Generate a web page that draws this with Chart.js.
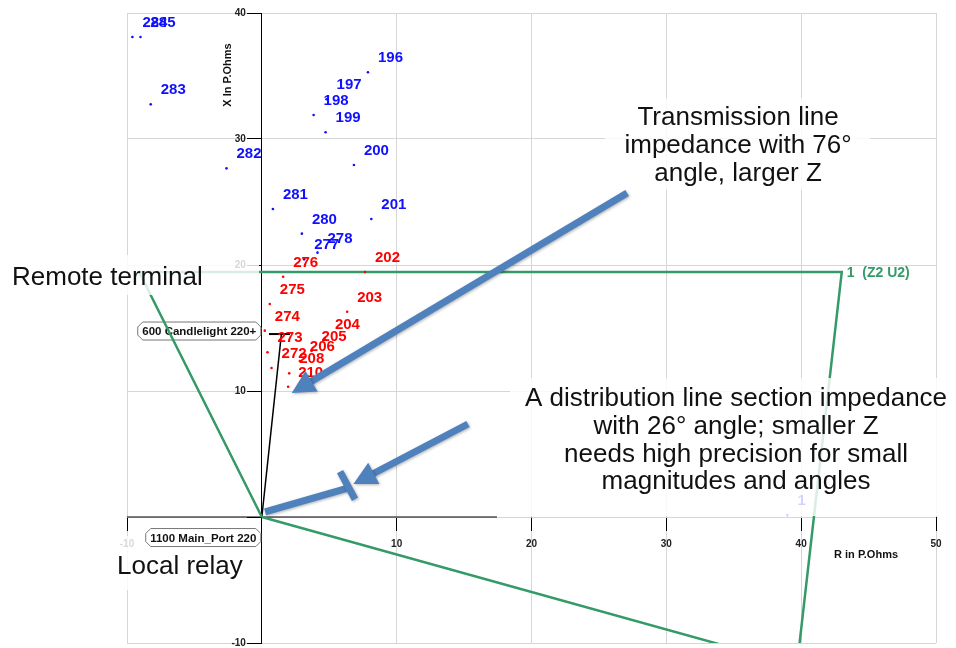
<!doctype html>
<html lang="en">
<head>
<meta charset="utf-8">
<title>R-X impedance plot</title>
<script src="https://cdn.jsdelivr.net/npm/chart.js@4.4.0/dist/chart.umd.min.js"></script>
<style>
  html, body { margin: 0; padding: 0; background: #fff; }
</style>
</head>
<body>
<canvas id="rxChart" width="956" height="648"></canvas>
<script>
// apparent impedance points, R and X in P.Ohms
var blueLabels = ['284', '285', '283', '282', '196', '197', '198', '199', '200', '281', '201', '280', '278', '277', '1'];
var blueR = [-9.6, -9.0, -8.24, -2.62, 7.87, 4.8, 3.84, 4.73, 6.83, 0.82, 8.12, 2.97, 4.13, 3.14, 38.98];
var blueX = [38.1, 38.1, 32.75, 27.67, 35.3, 33.15, 31.9, 30.53, 27.94, 24.44, 23.65, 22.49, 20.98, 20.45, 0.16];

var redLabels = ['202', '276', '275', '274', '273', '272', '203', '204', '205', '206', '208', '210'];
var redR = [7.65, 1.58, 0.59, 0.22, 0.42, 0.72, 6.33, 4.68, 3.69, 2.82, 2.03, 1.95];
var redX = [19.44, 19.07, 16.9, 14.79, 13.07, 11.83, 16.29, 14.1, 13.17, 12.38, 11.4, 10.34];

// zone 1 (Z2 U2) characteristic
var zoneR = [0, -9.1, 43.01, 39.69, 0];
var zoneX = [0, 19.44, 19.44, -11.81, 0];

// line impedance, its end cap and the drawn part of the R axis
var lineR = [0, 1.45];
var lineX = [0, 14.52];
var capR = [0.53, 2.09];
var capX = [14.52, 14.52];
var axisR = [-10, 17.44];
var axisX = [0, 0];

var xTicks = [-10, 0, 10, 20, 30, 40, 50];
var yTicks = [-10, 0, 10, 20, 30, 40];

// annotations (data coords)
var notes = [
  { lines: ['Transmission line', 'impedance with 76°', 'angle, larger Z'], r: 35.32, x: 31.11, align: 'center', box: [25.45, 33.25, 45.11, 25.95] },
  { lines: ['A distribution line section impedance', 'with 26° angle; smaller Z', 'needs high precision for small', 'magnitudes and angles'], r: 35.17, x: 8.81, align: 'center', box: [18.41, 11.03, 51.49, 0.08] },
  { lines: ['Remote terminal'], r: -18.53, x: 18.41, align: 'left', box: [-19.05, 20.79, -0.21, 17.62] },
  { lines: ['Local relay'], r: -10.74, x: -4.52, align: 'left', box: [-11.11, -1.51, -1.02, -5.79] }
];
var arrows = [
  { from: [27.09, 25.71], to: [2.22, 9.84] },
  { from: [15.29, 7.38], to: [6.79, 2.62] }
];
var sectionLine = [[0.24, 0.4], [6.31, 2.28]];
var sectionBar = [[5.8, 3.6], [6.91, 1.41]];
var tags = [
  { text: '600 Candlelight 220+', r: 0, x: 14.76, under: true },
  { text: '1100 Main_Port 220', r: 0, x: -1.63, under: false }
];
var zoneLabel = { text: '1  (Z2 U2)', r: 43.01, x: 19.44 };

var FONT = '"Liberation Sans", Arial, sans-serif';
var GREEN = '#349a68';
var ARROW = '#4f81bd';

function pts(rs, xs) {
  return rs.map(function (r, i) { return { x: r, y: xs[i] }; });
}

function drawTag(ctx, t, right, cy) {
  ctx.font = 'bold 11.5px ' + FONT;
  var w = ctx.measureText(t).width + 9, h = 18, c = 5;
  var l = right - w, top = cy - h / 2;
  ctx.beginPath();
  ctx.moveTo(l + c, top); ctx.lineTo(right - c, top); ctx.lineTo(right, top + c);
  ctx.lineTo(right, top + h - c); ctx.lineTo(right - c, top + h); ctx.lineTo(l + c, top + h);
  ctx.lineTo(l, top + h - c); ctx.lineTo(l, top + c); ctx.closePath();
  ctx.fillStyle = '#fff'; ctx.fill();
  ctx.strokeStyle = '#777'; ctx.lineWidth = 1; ctx.stroke();
  ctx.fillStyle = '#111'; ctx.textAlign = 'center'; ctx.textBaseline = 'middle';
  ctx.fillText(t, l + w / 2, cy + 1);
}

function drawArrow(ctx, x1, y1, x2, y2) {
  var a = Math.atan2(y2 - y1, x2 - x1), hl = 23, hw = 12;
  var bx = x2 - hl * Math.cos(a), by = y2 - hl * Math.sin(a);
  ctx.beginPath(); ctx.moveTo(x1, y1); ctx.lineTo(bx + 2 * Math.cos(a), by + 2 * Math.sin(a)); ctx.stroke();
  ctx.beginPath(); ctx.moveTo(x2, y2);
  ctx.lineTo(bx - hw * Math.sin(a), by + hw * Math.cos(a));
  ctx.lineTo(bx + hw * Math.sin(a), by - hw * Math.cos(a));
  ctx.closePath(); ctx.fill();
}

var overlay = {
  id: 'overlay',
  beforeDatasetsDraw: function (chart) {
    var ctx = chart.ctx, sx = chart.scales.x, sy = chart.scales.y;
    ctx.save();
    tags.forEach(function (t) {
      if (t.under) drawTag(ctx, t.text, sx.getPixelForValue(t.r) - 1, sy.getPixelForValue(t.x));
    });
    ctx.restore();
  },
  afterDatasetsDraw: function (chart) {
    var ctx = chart.ctx, sx = chart.scales.x, sy = chart.scales.y;
    ctx.save();
    // y tick labels, left of the X axis line
    ctx.font = 'bold 10px ' + FONT;
    ctx.fillStyle = '#222'; ctx.textAlign = 'right'; ctx.textBaseline = 'middle';
    yTicks.forEach(function (v) {
      if (v !== 0) ctx.fillText(String(v), sx.getPixelForValue(0) - 16, sy.getPixelForValue(v) + 0.5);
    });
    // point labels
    ctx.font = 'bold 15px ' + FONT;
    ctx.textAlign = 'left'; ctx.textBaseline = 'alphabetic';
    [[blueLabels, blueR, blueX, '#1010ff'], [redLabels, redR, redX, '#ff0000']].forEach(function (s) {
      ctx.fillStyle = s[3];
      s[0].forEach(function (lab, i) {
        ctx.fillText(lab, sx.getPixelForValue(s[1][i]) + 10, sy.getPixelForValue(s[2][i]) - 10);
      });
    });
    ctx.fillStyle = GREEN;
    ctx.font = 'bold 14px ' + FONT;
    ctx.fillText(zoneLabel.text, sx.getPixelForValue(zoneLabel.r) + 5, sy.getPixelForValue(zoneLabel.x) + 5);

    // axis titles
    ctx.fillStyle = '#111';
    ctx.font = 'bold 11px ' + FONT;
    ctx.fillText('R in P.Ohms', sx.getPixelForValue(42.44), sy.getPixelForValue(0) + 41);
    ctx.save();
    ctx.translate(sx.getPixelForValue(0) - 31, chart.chartArea.top + 62);
    ctx.rotate(-Math.PI / 2);
    ctx.textAlign = 'center';
    ctx.fillText('X In P.Ohms', 0, 0);
    ctx.restore();
    ctx.restore();
  },
  afterDraw: function (chart) {
    var ctx = chart.ctx, sx = chart.scales.x, sy = chart.scales.y;
    function P(p) { return [sx.getPixelForValue(p[0]), sy.getPixelForValue(p[1])]; }
    ctx.save();
    // text call-outs on translucent white boxes
    notes.forEach(function (n) {
      var b1 = P([n.box[0], n.box[1]]), b2 = P([n.box[2], n.box[3]]);
      ctx.fillStyle = 'rgba(255,255,255,0.82)';
      ctx.fillRect(b1[0], b1[1], b2[0] - b1[0], b2[1] - b1[1]);
      ctx.fillStyle = '#111';
      ctx.font = '26px ' + FONT;
      ctx.textAlign = n.align; ctx.textBaseline = 'alphabetic';
      var p = P([n.r, n.x]);
      n.lines.forEach(function (l, i) { ctx.fillText(l, p[0], p[1] + i * 27.8); });
    });
    // blue arrows
    ctx.strokeStyle = ARROW; ctx.fillStyle = ARROW;
    ctx.lineWidth = 7; ctx.lineCap = 'butt';
    ctx.shadowColor = 'rgba(0,0,0,0.3)'; ctx.shadowBlur = 3; ctx.shadowOffsetX = 1; ctx.shadowOffsetY = 1;
    arrows.forEach(function (a) {
      var f = P(a.from), t = P(a.to);
      drawArrow(ctx, f[0], f[1], t[0], t[1]);
    });
    [sectionLine, sectionBar].forEach(function (s) {
      var f = P(s[0]), t = P(s[1]);
      ctx.beginPath(); ctx.moveTo(f[0], f[1]); ctx.lineTo(t[0], t[1]); ctx.stroke();
    });
    ctx.shadowColor = 'transparent';
    tags.forEach(function (t) {
      if (!t.under) drawTag(ctx, t.text, sx.getPixelForValue(t.r) - 1, sy.getPixelForValue(t.x));
    });
    ctx.restore();
  }
};

var tickFont = { family: FONT, size: 10, weight: 'bold' };
function hideZero(v) { return v === 0 ? '' : v; }

var ctx = document.getElementById('rxChart').getContext('2d');
var rxChart = new Chart(ctx, {
  type: 'scatter',
  data: {
    datasets: [
      { label: 'blue', data: pts(blueR, blueX), pointRadius: 1.3, pointBorderWidth: 0, pointBackgroundColor: '#1010ff' },
      { label: 'red', data: pts(redR, redX), pointRadius: 1.3, pointBorderWidth: 0, pointBackgroundColor: '#ff0000' },
      { label: 'zone', data: pts(zoneR, zoneX), showLine: true, borderColor: GREEN, borderWidth: 2.5, pointRadius: 0 },
      { label: 'line', data: pts(lineR, lineX), showLine: true, borderColor: '#000', borderWidth: 1.5, pointRadius: 0 },
      { label: 'cap', data: pts(capR, capX), showLine: true, borderColor: '#000', borderWidth: 2, pointRadius: 0 },
      { label: 'axis', data: pts(axisR, axisX), showLine: true, borderColor: '#000', borderWidth: 1.2, pointRadius: 0 }
    ]
  },
  plugins: [overlay],
  options: {
    responsive: false,
    animation: false,
    devicePixelRatio: 1,
    layout: { padding: { left: 127, right: 20, top: 13, bottom: 5 } },
    scales: {
      x: {
        type: 'linear', min: -10, max: 50, position: { y: 0 },
        afterBuildTicks: function (s) { s.ticks = xTicks.map(function (v) { return { value: v }; }); },
        ticks: { color: '#222', font: tickFont, padding: 7, maxRotation: 0, callback: hideZero },
        grid: { color: '#d6d6d6', tickColor: '#000', tickLength: 14 },
        border: { display: false }
      },
      y: {
        type: 'linear', min: -10, max: 40, position: { x: 0 },
        afterBuildTicks: function (s) { s.ticks = yTicks.map(function (v) { return { value: v }; }); },
        ticks: { display: false },
        grid: { color: '#d6d6d6', tickColor: '#000', tickLength: 14 },
        border: { display: true, color: '#000', width: 1 }
      }
    },
    plugins: {
      legend: { display: false },
      tooltip: { enabled: false }
    }
  }
});
</script>
</body>
</html>
